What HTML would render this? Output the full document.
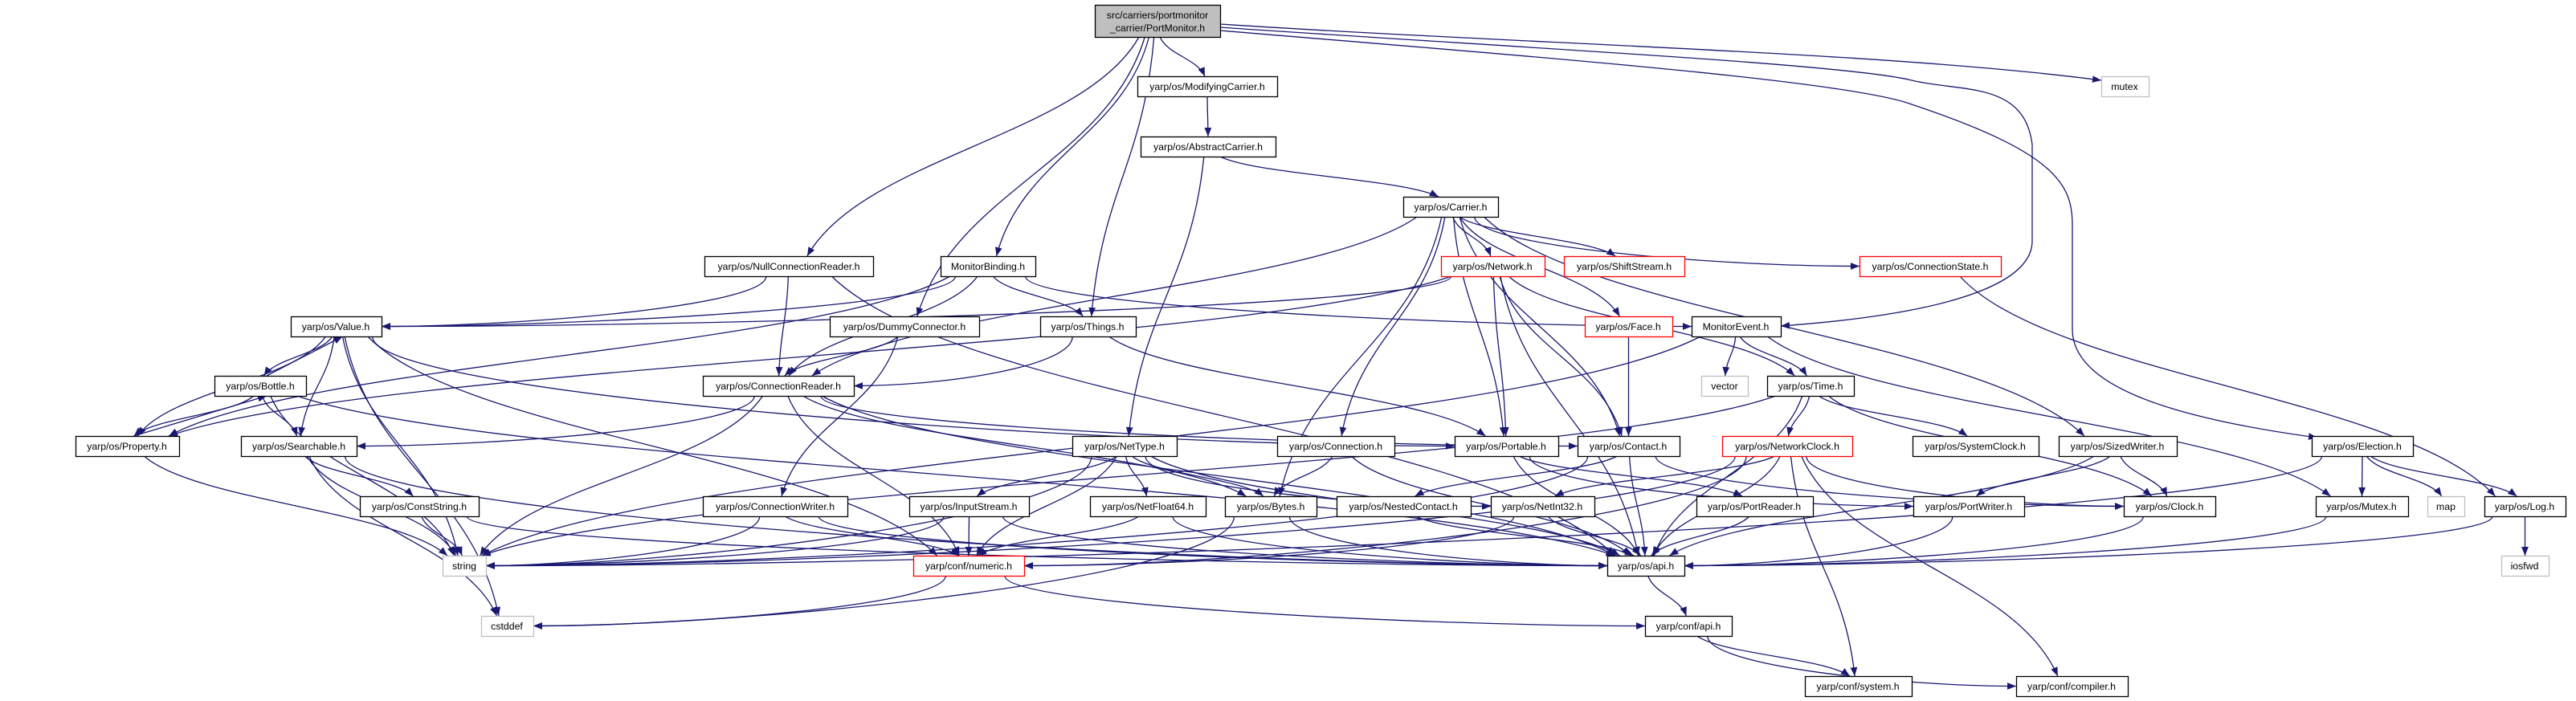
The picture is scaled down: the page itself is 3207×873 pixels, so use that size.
<!DOCTYPE html>
<html><head><meta charset="utf-8">
<style>
html,body{margin:0;padding:0;background:#fff;}
svg{display:block;}
text{font-family:"Liberation Sans",Arial,sans-serif;font-size:12.3px;fill:#000;}
</style></head>
<body>
<svg id="g" width="3207" height="873" viewBox="0 0 3207 873" xmlns="http://www.w3.org/2000/svg">
<defs>
<marker id="ah" viewBox="0 0 10 10" refX="10" refY="5" markerWidth="11" markerHeight="11" markerUnits="userSpaceOnUse" orient="auto">
<path d="M0,1 L10,5 L0,9 z" fill="#191970"/>
</marker>
</defs>
<g id="edges" fill="none" stroke="#191970" stroke-width="1.3">
<path d="M1519,30 C1900,55 2350,65 2616,100" marker-end="url(#ah)"/>
<path d="M1519,34 C1900,60 2300,80 2380,100 C2440,115 2520,100 2530,180 L2530,300 C2530,380 2300,400 2217,406" marker-end="url(#ah)"/>
<path d="M1519,38 C1900,70 2300,100 2380,130 C2560,190 2580,230 2580,280 L2580,410 C2580,480 2700,520 2885,545" marker-end="url(#ah)"/>
</g>
<g id="nodes"></g>
<g id="labels" text-anchor="middle">
<text x="1441" y="23">src/carriers/portmonitor</text>
<text x="1441" y="39">_carrier/PortMonitor.h</text>
<text x="1503" y="112">yarp/os/ModifyingCarrier.h</text>
<text x="2645" y="112">mutex</text>
<text x="1504" y="187">yarp/os/AbstractCarrier.h</text>
<text x="1806" y="262">yarp/os/Carrier.h</text>
<text x="982" y="336">yarp/os/NullConnectionReader.h</text>
<text x="1230" y="336">MonitorBinding.h</text>
<text x="1858" y="336">yarp/os/Network.h</text>
<text x="2022" y="336">yarp/os/ShiftStream.h</text>
<text x="2403" y="336">yarp/os/ConnectionState.h</text>
<text x="418" y="411">yarp/os/Value.h</text>
<text x="1126" y="411">yarp/os/DummyConnector.h</text>
<text x="1354" y="411">yarp/os/Things.h</text>
<text x="2027" y="411">yarp/os/Face.h</text>
<text x="2161" y="411">MonitorEvent.h</text>
<text x="324" y="485">yarp/os/Bottle.h</text>
<text x="969" y="485">yarp/os/ConnectionReader.h</text>
<text x="2147" y="485">vector</text>
<text x="2254" y="485">yarp/os/Time.h</text>
<text x="158" y="560">yarp/os/Property.h</text>
<text x="372" y="560">yarp/os/Searchable.h</text>
<text x="1400" y="560">yarp/os/NetType.h</text>
<text x="1663" y="560">yarp/os/Connection.h</text>
<text x="1875" y="560">yarp/os/Portable.h</text>
<text x="2027" y="560">yarp/os/Contact.h</text>
<text x="2225" y="560">yarp/os/NetworkClock.h</text>
<text x="2459" y="560">yarp/os/SystemClock.h</text>
<text x="2636" y="560">yarp/os/SizedWriter.h</text>
<text x="2941" y="560">yarp/os/Election.h</text>
<text x="522" y="635">yarp/os/ConstString.h</text>
<text x="965" y="635">yarp/os/ConnectionWriter.h</text>
<text x="1206" y="635">yarp/os/InputStream.h</text>
<text x="1429" y="635">yarp/os/NetFloat64.h</text>
<text x="1582" y="635">yarp/os/Bytes.h</text>
<text x="1747" y="635">yarp/os/NestedContact.h</text>
<text x="1920" y="635">yarp/os/NetInt32.h</text>
<text x="2184" y="635">yarp/os/PortReader.h</text>
<text x="2451" y="635">yarp/os/PortWriter.h</text>
<text x="2701" y="635">yarp/os/Clock.h</text>
<text x="2940" y="635">yarp/os/Mutex.h</text>
<text x="3045" y="635">map</text>
<text x="3143" y="635">yarp/os/Log.h</text>
<text x="578" y="709">string</text>
<text x="1206" y="709">yarp/conf/numeric.h</text>
<text x="2049" y="709">yarp/os/api.h</text>
<text x="3143" y="709">iosfwd</text>
<text x="631" y="784">cstddef</text>
<text x="2102" y="784">yarp/conf/api.h</text>
<text x="2313" y="859">yarp/conf/system.h</text>
<text x="2579" y="859">yarp/conf/compiler.h</text>
</g>
</svg>
<script>
(function(){
var N={
pm:[1363,1519,6,46,'p'],mc:[1416,1590,95],mutex:[2616,2675,95,0,'g'],ac:[1420,1588,170],car:[1747,1865,245],
ncr:[877,1087,319],mb:[1171,1289,319],net:[1794,1923,319,0,'r'],ss:[1947,2097,319,0,'r'],cs:[2315,2491,319,0,'r'],
val:[362,475,394],dc:[1033,1219,394],th:[1295,1414,394],face:[1973,2082,394,0,'r'],me:[2106,2217,394],
bot:[267,381,468],cr:[875,1063,468],vec:[2118,2176,468,0,'g'],time:[2200,2308,468],
prop:[94,223,543],srch:[300,444,543],nt:[1335,1465,543],conn:[1590,1736,543],port:[1811,1940,543],cont:[1964,2091,543],
nc:[2144,2306,543,0,'r'],sc:[2381,2538,543],sw:[2563,2710,543],el:[2878,3004,543],
cstr:[448,596,618],cw:[875,1055,618],is:[1132,1281,618],nf:[1357,1501,618],bytes:[1525,1639,618],nest:[1664,1831,618],
ni:[1856,1985,618],pr:[2112,2257,618],pw:[2382,2520,618],clock:[2644,2758,618],mutexh:[2883,2998,618],map:[3022,3068,618,0,'g'],log:[3093,3194,618],
str:[551,605,692,0,'g'],num:[1137,1275,692,0,'r'],api:[2001,2097,692],iosfwd:[3114,3173,692,0,'g'],
cstd:[599,664,767,0,'g'],capi:[2048,2156,767],sys:[2247,2380,842],comp:[2510,2649,842]};
var ns='http://www.w3.org/2000/svg';
var gN=document.getElementById('nodes'),gE=document.getElementById('edges');
function R(k){var n=N[k];var y2=n[3]?n[3]:n[2]+25;return {x1:n[0],x2:n[1],y1:n[2],y2:y2,cx:(n[0]+n[1])/2,cy:(n[2]+y2)/2,t:n[4]};}
for(var k in N){var r=R(k);var e=document.createElementNS(ns,'rect');
e.setAttribute('x',r.x1+0.5);e.setAttribute('y',r.y1+0.5);e.setAttribute('width',r.x2-r.x1);e.setAttribute('height',r.y2-r.y1);
e.setAttribute('fill',r.t==='p'?'#bfbfbf':'#fff');
e.setAttribute('stroke',r.t==='r'?'#ff0000':(r.t==='g'?'#bfbfbf':'#000'));e.setAttribute('stroke-width','1.3');gN.appendChild(e);}
var E='pm>ncr pm>mb pm>dc pm>th pm>mc mc>ac ac>car ac>nt '+
'car>net car>ss car>cs car>face car>sw car>cont car>conn car>bytes car>cr car>port '+
'ncr>val ncr>cr ncr>api mb>val mb>cr mb>th mb>me mb>prop net>val net>prop net>time net>cont net>port net>api '+
'dc>cr dc>cw th>cr th>port face>cont me>vec me>time me>mutexh me>str cs>log '+
'val>bot val>srch val>prop val>str val>cstd val>num val>port bot>val bot>prop bot>srch bot>str bot>api prop>bot prop>str '+
'srch>str srch>cstr srch>cstd srch>api cr>srch cr>str cr>bytes cr>cont cr>api cr>num '+
'time>nc time>sc time>clock time>api time>str nc>clock nc>api nc>ni nc>num nc>sys nc>comp nc>str sw>pw sw>api sw>clock '+
'el>mutexh el>map el>log el>str log>iosfwd log>api cont>str cont>nest cont>api cont>clock '+
'nt>is nt>nf nt>bytes nt>ni nt>num nt>str nt>api conn>bytes conn>api port>pr port>pw port>api '+
'is>num is>str is>api nf>num nf>api bytes>api bytes>cstd nest>api ni>num ni>api pr>api pw>api clock>api mutexh>api '+
'cstr>str cstr>api cw>str cw>num cw>api num>capi num>cstd api>capi capi>sys capi>comp';
E.split(/\s+/).forEach(function(s){if(!s)return;var p=s.split('>');var a=R(p[0]),b=R(p[1]);
var x1,y1,x2,y2,d;var dx=b.cx-a.cx,dy=b.cy-a.cy;
if(Math.abs(dy)<5){ if(dx>0){x1=a.x2;x2=b.x1;}else{x1=a.x1;x2=b.x2;} y1=a.cy;y2=b.cy;
  d='M'+x1+','+y1+' C'+(x1+dx/3)+','+(y1+20)+' '+(x2-dx/3)+','+(y2+20)+' '+x2+','+y2;}
else if(dy>0){x1=a.cx+Math.max(-(a.x2-a.x1)/2.5,Math.min((a.x2-a.x1)/2.5,dx*0.05));y1=a.y2;
  if(Math.abs(dx)>5*dy&&dy<160){y2=b.cy;x2=dx>0?b.x1:b.x2;d='M'+x1+','+y1+' C'+x1+','+(y1+dy*0.5)+' '+(x2-dx*0.3)+','+y2+' '+x2+','+y2;}
  else{x2=b.cx-Math.max(-(b.x2-b.x1)/2.5,Math.min((b.x2-b.x1)/2.5,dx*0.05));y2=b.y1;
  d='M'+x1+','+y1+' C'+(x1+dx*0.15)+','+(y1+(y2-y1)*0.45)+' '+(x2-dx*0.15)+','+(y2-(y2-y1)*0.45)+' '+x2+','+y2;}}
else{x1=a.cx+8;y1=a.y1;x2=b.cx+8;y2=b.y2;d='M'+x1+','+y1+' L'+x2+','+y2;}
var pth=document.createElementNS(ns,'path');pth.setAttribute('d',d);pth.setAttribute('marker-end','url(#ah)');gE.appendChild(pth);});
})();
</script>
</body></html>
